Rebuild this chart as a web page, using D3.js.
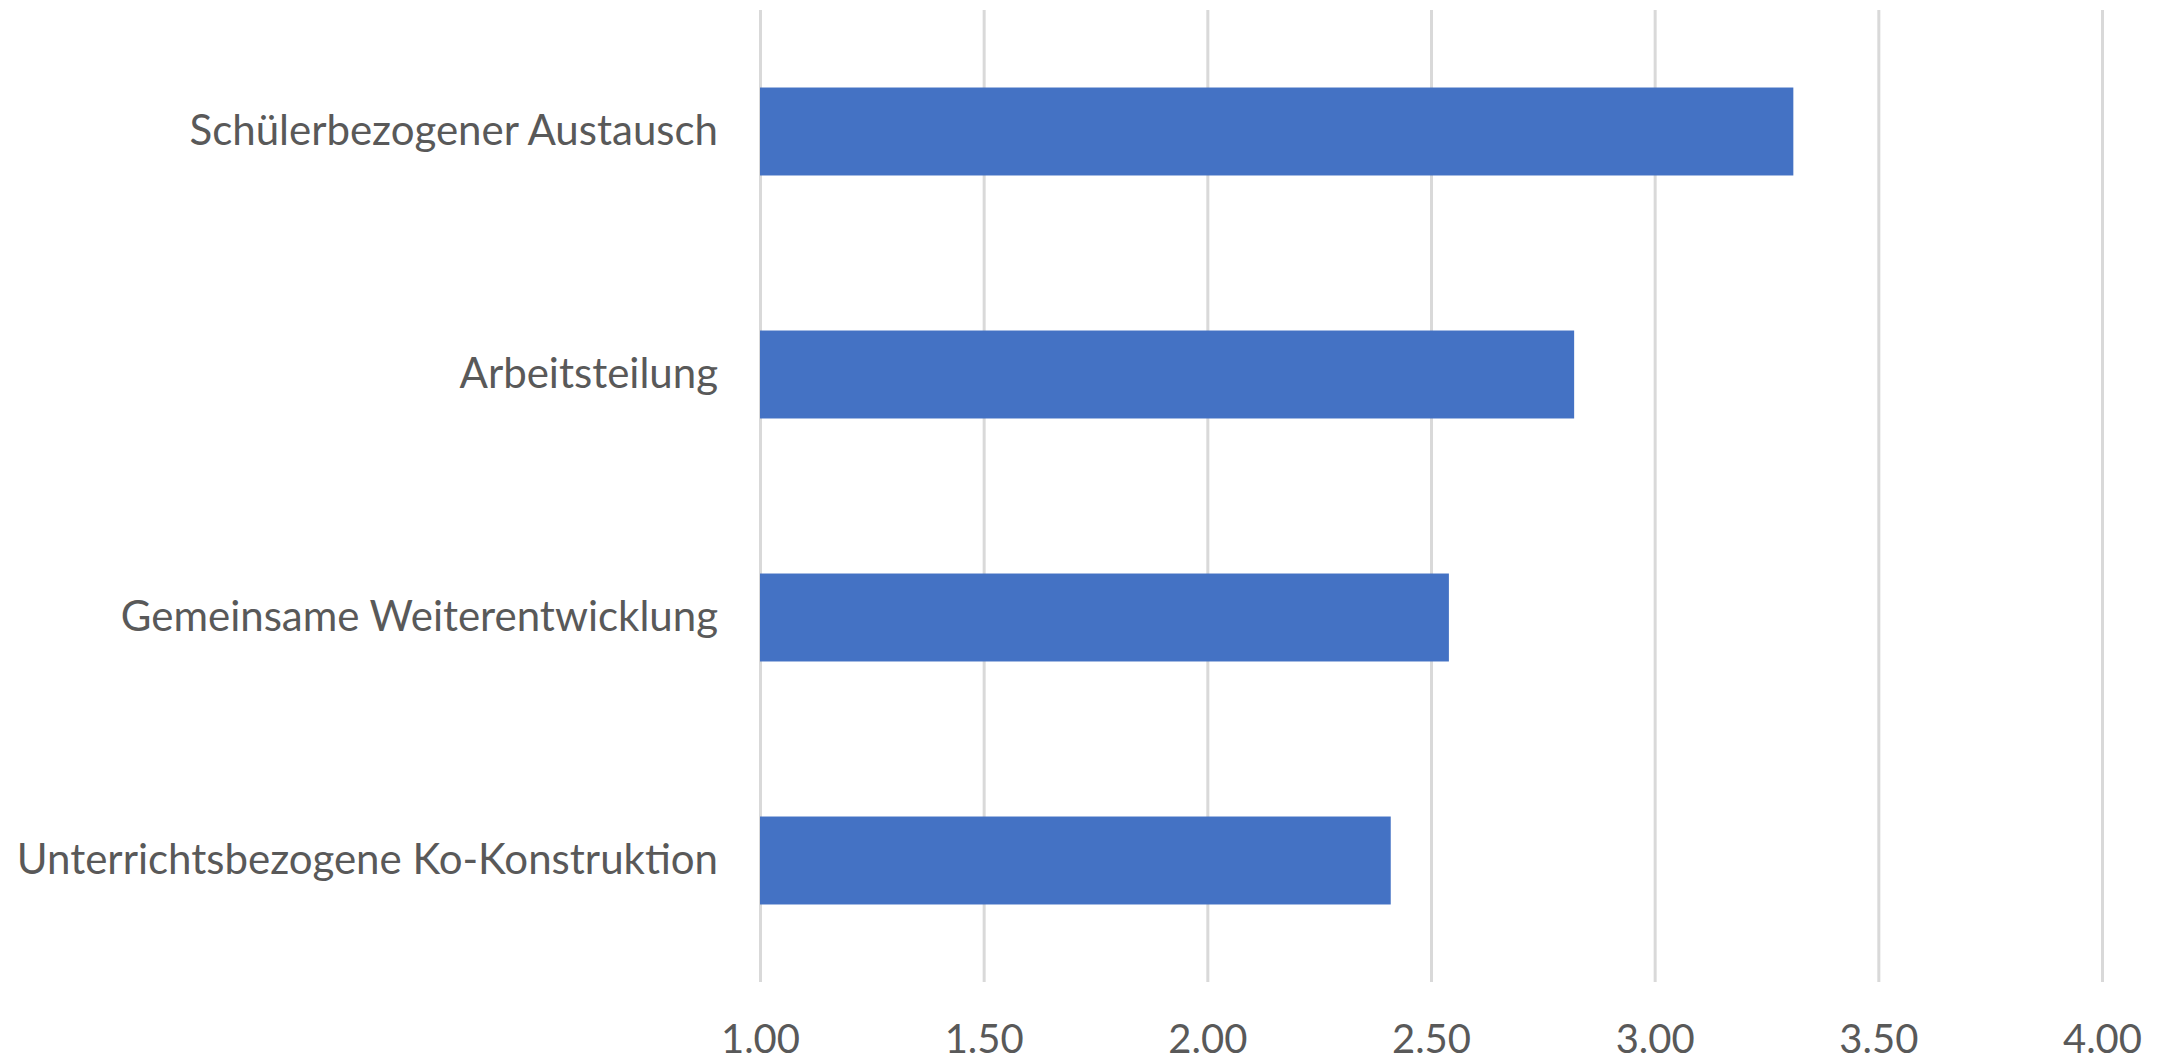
<!DOCTYPE html>
<html>
  <head>
    <meta charset="utf-8" />
    <title>Kooperationsformen</title>
    <script src="https://d3js.org/d3.v7.min.js"></script>
    <style>
      body {
        margin: 0;
        background: #fff;
      }
      .axis text {
        font-family: Lato, "Open Sans", sans-serif;
        font-size: 40px;
        fill: #595959;
      }
      .axis.cat text {
        font-size: 42px;
      }
      .grid line {
        stroke: #d9d9d9;
        stroke-width: 3px;
      }
      .bar {
        fill: #4472c4;
      }
    </style>
  </head>
  <body>
    <div id="chart"></div>
    <script>
      // categories from top to bottom
      const categories = [
        "Schülerbezogener Austausch",
        "Arbeitsteilung",
        "Gemeinsame Weiterentwicklung",
        "Unterrichtsbezogene Ko-Konstruktion",
      ];
      const values = [3.31, 2.82, 2.54, 2.41];
      const tickValues = [1.0, 1.5, 2.0, 2.5, 3.0, 3.5, 4.0];

      const W = 2161,
        H = 1061;
      const margin = { top: 10, right: 59, bottom: 79, left: 760 };
      const width = W - margin.left - margin.right,
        height = H - margin.top - margin.bottom;

      const svg = d3
        .select("#chart")
        .append("svg")
        .attr("width", W)
        .attr("height", H)
        .append("g")
        .attr("transform", `translate(${margin.left},${margin.top})`);

      const x = d3.scaleLinear().domain([1, 4]).range([0, width]);
      const y = d3
        .scaleBand()
        .domain(categories)
        .range([0, height])
        .paddingInner(0.638)
        .paddingOuter(0.319);

      // x axis with vertical gridlines
      const xAxis = svg
        .append("g")
        .attr("class", "axis grid")
        .attr("transform", `translate(0,${height})`)
        .call(
          d3
            .axisBottom(x)
            .tickValues(tickValues)
            .tickFormat(d3.format(".2f"))
            .tickSizeInner(-height)
            .tickSizeOuter(0)
            .tickPadding(43)
        );
      xAxis.select(".domain").remove();

      // bars
      svg
        .append("g")
        .selectAll("rect")
        .data(values)
        .join("rect")
        .attr("class", "bar")
        .attr("x", x(1))
        .attr("y", (d, i) => y(categories[i]))
        .attr("width", (d) => x(d) - x(1))
        .attr("height", y.bandwidth());

      // category labels
      const yAxis = svg
        .append("g")
        .attr("class", "axis cat")
        .call(d3.axisLeft(y).tickSize(0).tickPadding(42));
      yAxis.select(".domain").remove();
    </script>
  </body>
</html>
